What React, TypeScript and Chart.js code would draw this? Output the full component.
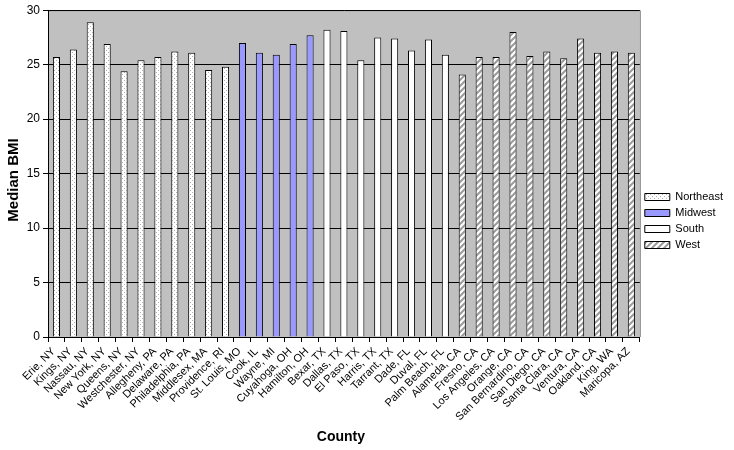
import React, { useEffect, useRef } from 'react';
import { Chart, registerables } from 'chart.js';
Chart.register(...registerables);

const northeastCounties = ['Erie, NY', 'Kings, NY', 'Nassau, NY', 'New York, NY', 'Queens, NY', 'Westchester, NY', 'Allegheny, PA', 'Delaware, PA', 'Philadelphia, PA', 'Middlesex, MA', 'Providence, RI'];
const midwestCounties = ['St. Louis, MO', 'Cook, IL', 'Wayne, MI', 'Cuyahoga, OH', 'Hamilton, OH'];
const southCounties = ['Bexar, TX', 'Dallas, TX', 'El Paso, TX', 'Harris, TX', 'Tarrant, TX', 'Dade, FL', 'Duval, FL', 'Palm Beach, FL'];
const westCounties = ['Alameda, CA', 'Fresno, CA', 'Los Angeles, CA', 'Orange, CA', 'San Bernardino, CA', 'San Diego, CA', 'Santa Clara, CA', 'Ventura, CA', 'Oakland, CA', 'King, WA', 'Maricopa, AZ'];

const northeastBMI = [25.7, 26.4, 28.9, 26.9, 24.4, 25.4, 25.7, 26.2, 26.1, 24.5, 24.8];
const midwestBMI = [27.0, 26.1, 25.9, 26.9, 27.7];
const southBMI = [28.2, 28.1, 25.4, 27.5, 27.4, 26.3, 27.3, 25.9];
const westBMI = [24.1, 25.7, 25.7, 28.0, 25.8, 26.2, 25.6, 27.4, 26.1, 26.2, 26.1];

const regionNames = ['Northeast', 'Midwest', 'South', 'West'];
const yMin = 0;
const yMax = 30;
const yStep = 5;
const xTitle = 'County';
const yTitle = 'Median BMI';

const FONT = 'Liberation Sans, Arial, sans-serif';

function makeDots(): CanvasPattern | string {
  const c = document.createElement('canvas');
  c.width = 4; c.height = 4;
  const g = c.getContext('2d');
  if (!g) return '#ffffff';
  g.fillStyle = '#ffffff';
  g.fillRect(0, 0, 4, 4);
  g.fillStyle = '#b0b0b0';
  g.fillRect(0, 0, 1, 1);
  g.fillRect(2, 2, 1, 1);
  return g.createPattern(c, 'repeat') || '#ffffff';
}

function makeHatch(): CanvasPattern | string {
  const s = 6;
  const c = document.createElement('canvas');
  c.width = s; c.height = s;
  const g = c.getContext('2d');
  if (!g) return '#ffffff';
  g.fillStyle = '#ffffff';
  g.fillRect(0, 0, s, s);
  g.strokeStyle = '#9a9a9a';
  g.lineWidth = 2;
  g.beginPath();
  g.moveTo(0, s); g.lineTo(s, 0);
  g.moveTo(-s / 2, s / 2); g.lineTo(s / 2, -s / 2);
  g.moveTo(s / 2, s * 1.5); g.lineTo(s * 1.5, s / 2);
  g.stroke();
  return g.createPattern(c, 'repeat') || '#ffffff';
}

const plotBg = {
  id: 'plotBg',
  beforeDraw(chart: any) {
    const { ctx, chartArea } = chart;
    if (!chartArea) return;
    ctx.save();
    ctx.fillStyle = '#c0c0c0';
    ctx.fillRect(chartArea.left, chartArea.top, chartArea.right - chartArea.left, chartArea.bottom - chartArea.top);
    ctx.strokeStyle = '#808080';
    ctx.lineWidth = 1;
    ctx.beginPath();
    ctx.moveTo(chartArea.left, chartArea.top + 0.5);
    ctx.lineTo(chartArea.right + 0.5, chartArea.top + 0.5);
    ctx.lineTo(chartArea.right + 0.5, chartArea.bottom);
    ctx.stroke();
    ctx.restore();
  },
  afterDraw(chart: any) {
    const { ctx, chartArea } = chart;
    ctx.save();
    ctx.fillStyle = '#000';
    ctx.font = 'bold 15px ' + FONT;
    ctx.textAlign = 'center';
    ctx.textBaseline = 'middle';
    ctx.translate(14, 180);
    ctx.rotate(-Math.PI / 2);
    ctx.fillText(yTitle, 0, 0);
    ctx.restore();
    ctx.save();
    ctx.fillStyle = '#000';
    ctx.font = 'bold 14px ' + FONT;
    ctx.textAlign = 'center';
    ctx.textBaseline = 'middle';
    ctx.fillText(xTitle, (chartArea.left + chartArea.right) / 2 - 3, 437);
    ctx.restore();
  },
};

export default function App() {
  const ref = useRef<HTMLCanvasElement>(null);
  useEffect(() => {
    if (!ref.current) return;
    const labels = [...northeastCounties, ...midwestCounties, ...southCounties, ...westCounties];
    const groups = [northeastBMI, midwestBMI, southBMI, westBMI];
    const fills = [makeDots(), '#9999ff', '#ffffff', makeHatch()];
    let offset = 0;
    const datasets = groups.map((vals, i) => {
      const data: (number | null)[] = labels.map(() => null);
      vals.forEach((v, j) => { data[offset + j] = v; });
      offset += vals.length;
      return {
        label: regionNames[i],
        data,
        backgroundColor: fills[i] as any,
        borderColor: '#000000',
        borderWidth: 1,
        grouped: false,
        barPercentage: 0.42,
        categoryPercentage: 1,
      };
    });
    const chart = new Chart(ref.current, {
      type: 'bar',
      data: { labels, datasets: datasets as any },
      plugins: [plotBg],
      options: {
        animation: false,
        responsive: false,
        layout: { padding: { top: 2, right: 1, left: 4, bottom: 10 } },
        plugins: {
          tooltip: { enabled: false },
          legend: {
            position: 'right',
            labels: {
              boxWidth: 25,
              boxHeight: 7,
              padding: 5,
              color: '#000',
              font: { family: FONT, size: 11 },
            },
          },
        },
        scales: {
          x: {
            grid: { display: true, offset: true, drawOnChartArea: false, color: '#000', tickLength: 5 },
            border: { display: true, color: '#000' },
            ticks: {
              autoSkip: false,
              maxRotation: 45,
              minRotation: 45,
              color: '#000',
              padding: 3,
              labelOffset: -3,
              font: { family: FONT, size: 11 },
            },
            afterFit: (s: any) => { s.height = 103; },
          },
          y: {
            min: yMin,
            max: yMax,
            grid: { color: '#000', tickLength: 5 },
            border: { display: true, color: '#000' },
            ticks: {
              stepSize: yStep,
              color: '#000',
              padding: 3,
              font: { family: FONT, size: 12 },
            },
            afterFit: (s: any) => { s.width = 44; },
          },
        },
      },
    });
    return () => chart.destroy();
  }, []);
  return (
    <div style={{ position: 'fixed', left: 0, top: 0 }}>
      <canvas ref={ref} width={734} height={450} style={{ display: 'block' }} />
    </div>
  );
}
